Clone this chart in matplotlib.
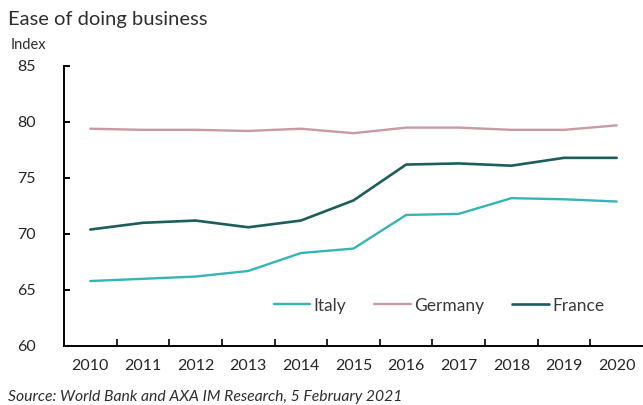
import numpy as np
import matplotlib.pyplot as plt
from matplotlib.ticker import FixedLocator

plt.rcParams['font.family'] = ['Lato', 'DejaVu Sans']

years = [2010, 2011, 2012, 2013, 2014, 2015, 2016, 2017, 2018, 2019, 2020]
italy = [65.8, 66.0, 66.2, 66.7, 68.3, 68.7, 71.7, 71.8, 73.2, 73.1, 72.9]
germany = [79.4, 79.3, 79.3, 79.2, 79.4, 79.0, 79.5, 79.5, 79.3, 79.3, 79.7]
france = [70.4, 71.0, 71.2, 70.6, 71.2, 73.0, 76.2, 76.3, 76.1, 76.8, 76.8]

y_ticks = [60, 65, 70, 75, 80, 85]

fig = plt.figure(figsize=(6.43, 4.05), dpi=100)
ax = fig.add_axes([64 / 643, 59 / 405, 579 / 643, 280 / 405])

x = np.arange(len(years))
ax.plot(x, italy, color='#35b5b6', lw=1.7, label='Italy', solid_capstyle='round')
ax.plot(x, germany, color='#c99aa3', lw=1.7, label='Germany', solid_capstyle='round')
ax.plot(x, france, color='#1d5d5b', lw=1.9, label='France', solid_capstyle='round')

ax.set_xlim(-0.5, len(years) - 0.5)
ax.set_ylim(60, 85)
ax.set_yticks(y_ticks)
ax.set_xticks(x)
ax.set_xticklabels([str(y) for y in years])
ax.xaxis.set_minor_locator(FixedLocator(np.arange(0.5, len(years) - 1, 1)))

for side in ['top', 'right']:
    ax.spines[side].set_visible(False)
for side in ['left', 'bottom']:
    ax.spines[side].set_linewidth(1.4)
    ax.spines[side].set_color('black')

ax.tick_params(axis='x', which='major', length=0, pad=9, labelsize=11.5, labelcolor='#262626')
ax.tick_params(axis='x', which='minor', direction='in', length=5, width=1.2)
ax.tick_params(axis='y', direction='in', length=4, width=1.4, pad=34, labelsize=11.5,
               labelcolor='#262626')
for lbl in ax.get_yticklabels():
    lbl.set_horizontalalignment('left')

ax.legend(loc='lower right', bbox_to_anchor=(0.96, 0.06), ncol=3, frameon=False,
          fontsize=12.5, handlelength=2.1, handletextpad=0.2, columnspacing=1.6,
          labelcolor='#3a3a3a')

fig.text(8 / 643, 1 - 19 / 405, 'Ease of doing business', fontsize=14.5, color='#2e2e2e',
         va='center', ha='left')
fig.text(11 / 643, 1 - 45 / 405, 'Index', fontsize=10.5, color='#2e2e2e', va='center', ha='left')
fig.text(8 / 643, 1 - 397 / 405, 'Source: World Bank and AXA IM Research, 5 February 2021',
         fontsize=11.3, style='italic', color='#2e2e2e', va='center', ha='left')

fig.savefig('out.png', dpi=100)
